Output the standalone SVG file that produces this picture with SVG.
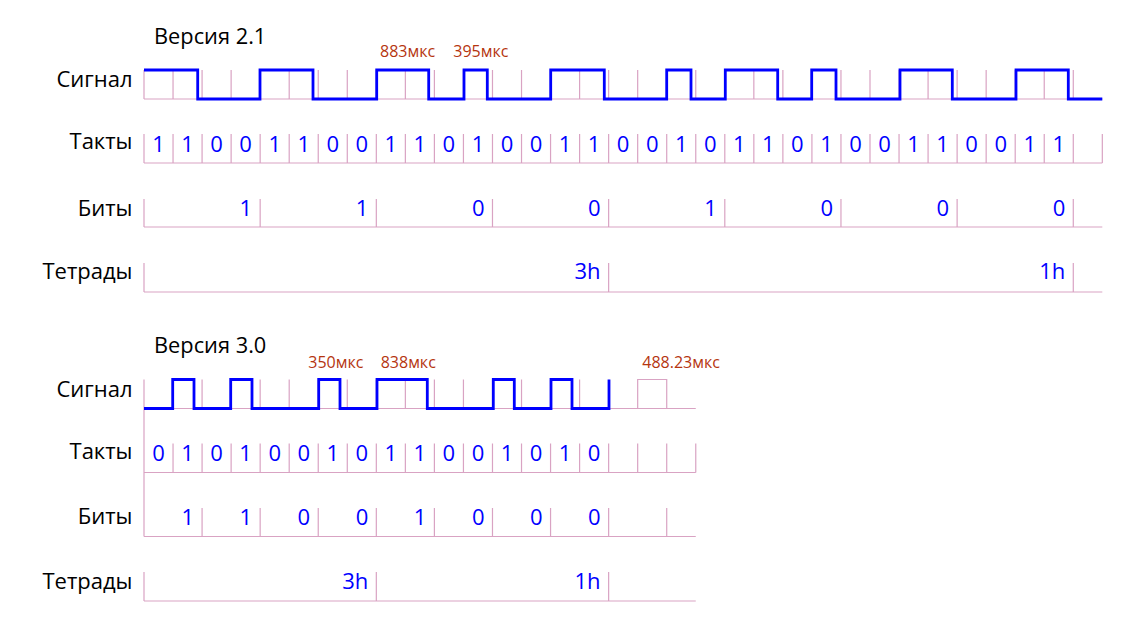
<svg xmlns="http://www.w3.org/2000/svg" width="1146" height="636" viewBox="0 0 1146 636">
<style>
.g{stroke:#d9a3c3;stroke-width:1.2;fill:none}
.sig{stroke:#0000ff;stroke-width:2.8;fill:none;stroke-linejoin:miter}
.t{font-family:"Open Sans","Liberation Sans",sans-serif;fill:#000}
.lbl{font-size:22px;text-anchor:end}
.ttl{font-size:21.8px}
.d{font-family:"Open Sans","Liberation Sans",sans-serif;font-size:22px;fill:#0000ff;text-anchor:middle}
.b{font-family:"Open Sans","Liberation Sans",sans-serif;font-size:22px;fill:#0000ff;text-anchor:end}
.r{font-family:"Open Sans","Liberation Sans",sans-serif;font-size:16px;fill:#b5350f}
</style>
<rect width="1146" height="636" fill="#fff"/>

<!-- ================= Version 2.1 ================= -->
<g id="v21">
<text class="t ttl" x="154" y="44">Версия 2.1</text>

<g id="v21-signal">
<text class="t lbl" x="132.5" y="87">Сигнал</text>
<path class="g" d="M144,99H1102.3M144,70V99M173.04,70V99M202.08,70V99M231.12,70V99M260.16,70V99M289.2,70V99M318.24,70V99M347.28,70V99M376.32,70V99M405.36,70V99M434.4,70V99M463.44,70V99M492.48,70V99M521.52,70V99M550.56,70V99M579.6,70V99M608.64,70V99M637.68,70V99M666.72,70V99M695.76,70V99M724.8,70V99M753.84,70V99M782.88,70V99M811.92,70V99M840.96,70V99M870,70V99M899.04,70V99M928.08,70V99M957.12,70V99M986.16,70V99M1015.2,70V99M1044.24,70V99M1073.28,70V99"/>
<path class="sig" d="M144,70H197.7V99H260V70H313V99H376.7V70H428.7V99H464V70H487.3V99H550.7V70H604.3V99H666.7V70H691V99H725.3V70H777.7V99H811.7V70H836V99H900V70H952.3V99H1016V70H1068.3V99H1102.3"/>
<text class="r" x="380" y="57">883мкс</text>
<text class="r" x="453.3" y="57">395мкс</text>
</g>

<g id="v21-takty">
<text class="t lbl" x="132.5" y="148.7">Такты</text>
<path class="g" d="M144,163H1102.3M144,134V163M173.04,134V163M202.08,134V163M231.12,134V163M260.16,134V163M289.2,134V163M318.24,134V163M347.28,134V163M376.32,134V163M405.36,134V163M434.4,134V163M463.44,134V163M492.48,134V163M521.52,134V163M550.56,134V163M579.6,134V163M608.64,134V163M637.68,134V163M666.72,134V163M695.76,134V163M724.8,134V163M753.84,134V163M782.88,134V163M811.92,134V163M840.96,134V163M870,134V163M899.04,134V163M928.08,134V163M957.12,134V163M986.16,134V163M1015.2,134V163M1044.24,134V163M1073.28,134V163M1102.32,134V163"/>
<text class="d" x="158.52" y="151.5">1</text>
<text class="d" x="187.56" y="151.5">1</text>
<text class="d" x="216.6" y="151.5">0</text>
<text class="d" x="245.64" y="151.5">0</text>
<text class="d" x="274.68" y="151.5">1</text>
<text class="d" x="303.72" y="151.5">1</text>
<text class="d" x="332.76" y="151.5">0</text>
<text class="d" x="361.8" y="151.5">0</text>
<text class="d" x="390.84" y="151.5">1</text>
<text class="d" x="419.88" y="151.5">1</text>
<text class="d" x="448.92" y="151.5">0</text>
<text class="d" x="477.96" y="151.5">1</text>
<text class="d" x="507" y="151.5">0</text>
<text class="d" x="536.04" y="151.5">0</text>
<text class="d" x="565.08" y="151.5">1</text>
<text class="d" x="594.12" y="151.5">1</text>
<text class="d" x="623.16" y="151.5">0</text>
<text class="d" x="652.2" y="151.5">0</text>
<text class="d" x="681.24" y="151.5">1</text>
<text class="d" x="710.28" y="151.5">0</text>
<text class="d" x="739.32" y="151.5">1</text>
<text class="d" x="768.36" y="151.5">1</text>
<text class="d" x="797.4" y="151.5">0</text>
<text class="d" x="826.44" y="151.5">1</text>
<text class="d" x="855.48" y="151.5">0</text>
<text class="d" x="884.52" y="151.5">0</text>
<text class="d" x="913.56" y="151.5">1</text>
<text class="d" x="942.6" y="151.5">1</text>
<text class="d" x="971.64" y="151.5">0</text>
<text class="d" x="1000.68" y="151.5">0</text>
<text class="d" x="1029.72" y="151.5">1</text>
<text class="d" x="1058.76" y="151.5">1</text>
</g>

<g id="v21-bity">
<text class="t lbl" x="132.5" y="216">Биты</text>
<path class="g" d="M144,227H1102.3M144,199V227M260.16,199V227M376.32,199V227M492.48,199V227M608.64,199V227M724.8,199V227M840.96,199V227M957.12,199V227M1073.28,199V227"/>
<text class="b" x="252.2" y="215.5">1</text>
<text class="b" x="368.3" y="215.5">1</text>
<text class="b" x="484.5" y="215.5">0</text>
<text class="b" x="600.6" y="215.5">0</text>
<text class="b" x="716.8" y="215.5">1</text>
<text class="b" x="833" y="215.5">0</text>
<text class="b" x="949.1" y="215.5">0</text>
<text class="b" x="1065.3" y="215.5">0</text>
</g>

<g id="v21-tetrady">
<text class="t lbl" x="132.5" y="279">Тетрады</text>
<path class="g" d="M144,292H1102.3M144,263V292M608.64,263V292M1073.28,263V292"/>
<text class="b" x="600.6" y="279.3">3h</text>
<text class="b" x="1065.3" y="279.3">1h</text>
</g>
</g>

<!-- ================= Version 3.0 ================= -->
<g id="v30">
<text class="t ttl" x="154" y="353">Версия 3.0</text>

<g id="v30-signal">
<text class="t lbl" x="132.5" y="397">Сигнал</text>
<path class="g" d="M144,408.5H695.76M144,379.5V536.5M173.04,379.5V408.5M202.08,379.5V408.5M231.12,379.5V408.5M260.16,379.5V408.5M289.2,379.5V408.5M318.24,379.5V408.5M347.28,379.5V408.5M376.32,379.5V408.5M405.36,379.5V408.5M434.4,379.5V408.5M463.44,379.5V408.5M492.48,379.5V408.5M521.52,379.5V408.5M550.56,379.5V408.5M579.6,379.5V408.5M637.68,408.5V379.5H666.72V408.5"/>
<path class="sig" d="M144,408.5H172.7V379.5H194V408.5H230.7V379.5H252V408.5H318.7V379.5H340V408.5H377V379.5H427.3V408.5H493.3V379.5H514.3V408.5H551V379.5H572V408.5H609V379.5"/>
<text class="r" x="308.3" y="367.5">350мкс</text>
<text class="r" x="380.7" y="367.5">838мкс</text>
<text class="r" x="642.3" y="367.5">488.23мкс</text>
</g>

<g id="v30-takty">
<text class="t lbl" x="132.5" y="458.5">Такты</text>
<path class="g" d="M144,472.5H695.76M173.04,443.5V472.5M202.08,443.5V472.5M231.12,443.5V472.5M260.16,443.5V472.5M289.2,443.5V472.5M318.24,443.5V472.5M347.28,443.5V472.5M376.32,443.5V472.5M405.36,443.5V472.5M434.4,443.5V472.5M463.44,443.5V472.5M492.48,443.5V472.5M521.52,443.5V472.5M550.56,443.5V472.5M579.6,443.5V472.5M608.64,443.5V472.5M637.68,443.5V472.5M666.72,443.5V472.5M695.76,443.5V472.5"/>
<text class="d" x="158.52" y="461">0</text>
<text class="d" x="187.56" y="461">1</text>
<text class="d" x="216.6" y="461">0</text>
<text class="d" x="245.64" y="461">1</text>
<text class="d" x="274.68" y="461">0</text>
<text class="d" x="303.72" y="461">0</text>
<text class="d" x="332.76" y="461">1</text>
<text class="d" x="361.8" y="461">0</text>
<text class="d" x="390.84" y="461">1</text>
<text class="d" x="419.88" y="461">1</text>
<text class="d" x="448.92" y="461">0</text>
<text class="d" x="477.96" y="461">0</text>
<text class="d" x="507" y="461">1</text>
<text class="d" x="536.04" y="461">0</text>
<text class="d" x="565.08" y="461">1</text>
<text class="d" x="594.12" y="461">0</text>
</g>

<g id="v30-bity">
<text class="t lbl" x="132.5" y="524">Биты</text>
<path class="g" d="M144,536.5H695.76M202.08,508V536.5M260.16,508V536.5M318.24,508V536.5M376.32,508V536.5M434.4,508V536.5M492.48,508V536.5M550.56,508V536.5M608.64,508V536.5M666.72,508V536.5"/>
<text class="b" x="194.1" y="525">1</text>
<text class="b" x="252.2" y="525">1</text>
<text class="b" x="310.2" y="525">0</text>
<text class="b" x="368.3" y="525">0</text>
<text class="b" x="426.4" y="525">1</text>
<text class="b" x="484.5" y="525">0</text>
<text class="b" x="542.6" y="525">0</text>
<text class="b" x="600.6" y="525">0</text>
</g>

<g id="v30-tetrady">
<text class="t lbl" x="132.5" y="588.5">Тетрады</text>
<path class="g" d="M144,601H695.76M144,572V601M376.32,572V601M608.64,572V601"/>
<text class="b" x="368.3" y="589.3">3h</text>
<text class="b" x="600.6" y="589.3">1h</text>
</g>
</g>

<g id="connectors"></g>
</svg>
